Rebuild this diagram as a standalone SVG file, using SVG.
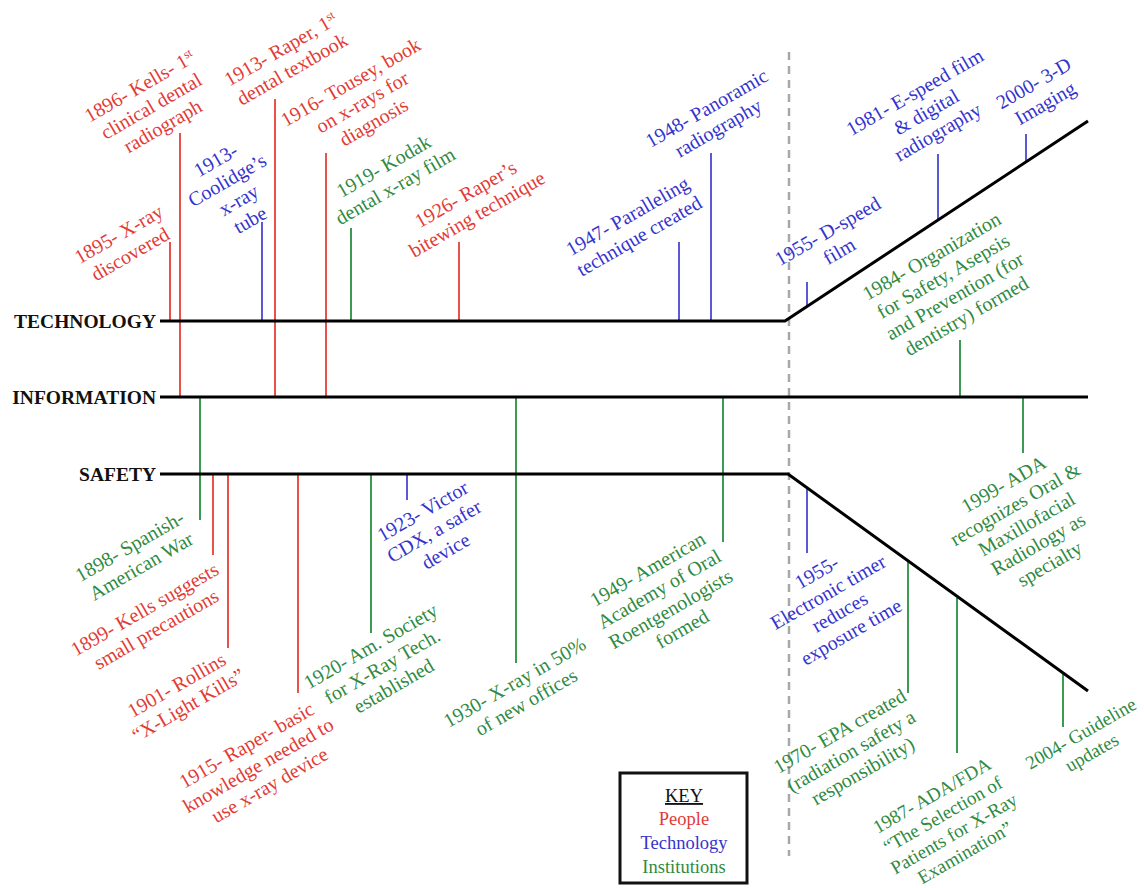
<svg xmlns="http://www.w3.org/2000/svg" width="1144" height="888" viewBox="0 0 1144 888">
<style>
text{font-family:"Liberation Serif","Times New Roman",serif}
.lbl{font-size:20px;text-anchor:middle}
.sm{font-size:19px}
.r{fill:#e23b36}.b{fill:#3434cc}.g{fill:#2f8a42}
.axis{stroke:#000;stroke-width:3;fill:none}
.head{font-size:19.5px;font-weight:bold;fill:#111;text-anchor:end}
.lr{stroke:#e8524c;stroke-width:2}.lb{stroke:#5a5ad6;stroke-width:2}.lg{stroke:#3d9a52;stroke-width:2}
.key{font-size:18.5px;text-anchor:middle}
</style>
<rect width="1144" height="888" fill="#fff"/>
<line x1="789" y1="52" x2="789" y2="856" stroke="#a8a8a8" stroke-width="2.5" stroke-dasharray="8,6"/>
<g id="connectors">
<line class="lr" x1="170" y1="242" x2="170" y2="321"/>
<line class="lr" x1="180" y1="133" x2="180" y2="397"/>
<line class="lb" x1="262" y1="222" x2="262" y2="321"/>
<line class="lr" x1="275" y1="99" x2="275" y2="397"/>
<line class="lr" x1="326" y1="153" x2="326" y2="397"/>
<line class="lg" x1="351" y1="228" x2="351" y2="321"/>
<line class="lr" x1="459" y1="242" x2="459" y2="321"/>
<line class="lb" x1="679" y1="242" x2="679" y2="321"/>
<line class="lb" x1="711" y1="153" x2="711" y2="321"/>
<line class="lb" x1="807" y1="282" x2="807" y2="307"/>
<line class="lb" x1="938" y1="154" x2="938" y2="220"/>
<line class="lb" x1="1026" y1="134" x2="1026" y2="162"/>
<line class="lg" x1="960" y1="340" x2="960" y2="397"/>
<line class="lg" x1="1023" y1="397" x2="1023" y2="453"/>
<line class="lg" x1="200" y1="397" x2="200" y2="520"/>
<line class="lr" x1="213" y1="474" x2="213" y2="555"/>
<line class="lr" x1="228" y1="474" x2="228" y2="648"/>
<line class="lr" x1="298" y1="474" x2="298" y2="693"/>
<line class="lg" x1="371" y1="474" x2="371" y2="633"/>
<line class="lb" x1="407" y1="474" x2="407" y2="500"/>
<line class="lg" x1="516" y1="397" x2="516" y2="663"/>
<line class="lg" x1="723" y1="397" x2="723" y2="542"/>
<line class="lb" x1="807" y1="489" x2="807" y2="553"/>
<line class="lg" x1="908" y1="562" x2="908" y2="693"/>
<line class="lg" x1="957" y1="598" x2="957" y2="753"/>
<line class="lg" x1="1063" y1="674" x2="1063" y2="727"/>
</g>
<g id="axis-technology">
<polyline class="axis" points="160,321 785,321 1088,121"/>
<text class="head" x="156" y="328">TECHNOLOGY</text>
</g>
<g id="axis-information">
<line class="axis" x1="160" y1="397" x2="1088" y2="397"/>
<text class="head" x="156" y="404">INFORMATION</text>
</g>
<g id="axis-safety">
<polyline class="axis" points="160,474 788,474 1088,691"/>
<text class="head" x="156" y="481">SAFETY</text>
</g>
<g id="e1895"><text class="lbl r" transform="translate(122,240) rotate(-30)"><tspan x="0">1895- X-ray</tspan><tspan x="0" dy="23">discovered</tspan></text></g>
<g id="e1896"><text class="lbl r" transform="translate(143,92) rotate(-30)"><tspan x="0">1896- Kells- 1<tspan font-size="12" baseline-shift="super">st</tspan></tspan><tspan x="0" dy="23">clinical dental</tspan><tspan x="0" dy="23">radiograph</tspan></text></g>
<g id="e1913c"><text class="lbl b" transform="translate(219,166) rotate(-30)"><tspan x="0">1913-</tspan><tspan x="0" dy="23">Coolidge’s</tspan><tspan x="0" dy="23">x-ray</tspan><tspan x="0" dy="23">tube</tspan></text></g>
<g id="e1913r"><text class="lbl r" transform="translate(284,55) rotate(-30)"><tspan x="0">1913- Raper, 1<tspan font-size="12" baseline-shift="super">st</tspan></tspan><tspan x="0" dy="23">dental textbook</tspan></text></g>
<g id="e1916"><text class="lbl r" transform="translate(354,88) rotate(-30)"><tspan x="0">1916- Tousey, book</tspan><tspan x="0" dy="23">on x-rays for</tspan><tspan x="0" dy="23">diagnosis</tspan></text></g>
<g id="e1919"><text class="lbl g" transform="translate(387,172) rotate(-30)"><tspan x="0">1919- Kodak</tspan><tspan x="0" dy="23">dental x-ray film</tspan></text></g>
<g id="e1926"><text class="lbl r" transform="translate(469,200) rotate(-30)"><tspan x="0">1926- Raper’s</tspan><tspan x="0" dy="23">bitewing technique</tspan></text></g>
<g id="e1947"><text class="lbl b" transform="translate(631,222) rotate(-30)"><tspan x="0">1947- Paralleling</tspan><tspan x="0" dy="23">technique created</tspan></text></g>
<g id="e1948"><text class="lbl b" transform="translate(710,114) rotate(-30)"><tspan x="0">1948- Panoramic</tspan><tspan x="0" dy="23">radiography</tspan></text></g>
<g id="e1955d"><text class="lbl b" transform="translate(831,237) rotate(-30)"><tspan x="0">1955- D-speed</tspan><tspan x="0" dy="23">film</tspan></text></g>
<g id="e1981"><text class="lbl b" transform="translate(918,98) rotate(-30)"><tspan x="0">1981- E-speed film</tspan><tspan x="0" dy="23">&amp; digital</tspan><tspan x="0" dy="23">radiography</tspan></text></g>
<g id="e2000"><text class="lbl b" transform="translate(1037,89) rotate(-30)"><tspan x="0">2000- 3-D</tspan><tspan x="0" dy="23">Imaging</tspan></text></g>
<g id="e1984"><text class="lbl g" transform="translate(935,262) rotate(-30)"><tspan x="0">1984- Organization</tspan><tspan x="0" dy="23">for Safety, Asepsis</tspan><tspan x="0" dy="23">and Prevention (for</tspan><tspan x="0" dy="23">dentistry) formed</tspan></text></g>
<g id="e1898"><text class="lbl g" transform="translate(133,552) rotate(-30)"><tspan x="0">1898- Spanish-</tspan><tspan x="0" dy="23">American War</tspan></text></g>
<g id="e1899"><text class="lbl r" transform="translate(148,615) rotate(-30)"><tspan x="0">1899- Kells suggests</tspan><tspan x="0" dy="23">small precautions</tspan></text></g>
<g id="e1901"><text class="lbl r" transform="translate(180,691) rotate(-30)"><tspan x="0">1901- Rollins</tspan><tspan x="0" dy="23">“X-Light Kills”</tspan></text></g>
<g id="e1915"><text class="lbl r" transform="translate(250,751) rotate(-30)"><tspan x="0">1915- Raper- basic</tspan><tspan x="0" dy="23">knowledge needed to</tspan><tspan x="0" dy="23">use x-ray device</tspan></text></g>
<g id="e1920"><text class="lbl g" transform="translate(374,652) rotate(-30)"><tspan x="0">1920- Am. Society</tspan><tspan x="0" dy="23">for X-Ray Tech.</tspan><tspan x="0" dy="23">established</tspan></text></g>
<g id="e1923"><text class="lbl b" transform="translate(426,517) rotate(-30)"><tspan x="0">1923- Victor</tspan><tspan x="0" dy="23">CDX, a safer</tspan><tspan x="0" dy="23">device</tspan></text></g>
<g id="e1930"><text class="lbl g" transform="translate(518,688) rotate(-30)"><tspan x="0">1930- X-ray in 50%</tspan><tspan x="0" dy="23">of new offices</tspan></text></g>
<g id="e1949"><text class="lbl g" transform="translate(651,575) rotate(-30)"><tspan x="0">1949- American</tspan><tspan x="0" dy="23">Academy of Oral</tspan><tspan x="0" dy="23">Roentgenologists</tspan><tspan x="0" dy="23">formed</tspan></text></g>
<g id="e1955e"><text class="lbl b" transform="translate(820,578) rotate(-30)"><tspan x="0">1955-</tspan><tspan x="0" dy="23">Electronic timer</tspan><tspan x="0" dy="23">reduces</tspan><tspan x="0" dy="23">exposure time</tspan></text></g>
<g id="e1999"><text class="lbl g" transform="translate(1007,490) rotate(-30)"><tspan x="0">1999- ADA</tspan><tspan x="0" dy="23">recognizes Oral &amp;</tspan><tspan x="0" dy="23">Maxillofacial</tspan><tspan x="0" dy="23">Radiology as</tspan><tspan x="0" dy="23">specialty</tspan></text></g>
<g id="e1970"><text class="lbl g" transform="translate(843,737) rotate(-30)"><tspan x="0">1970- EPA created</tspan><tspan x="0" dy="23">(radiation safety a</tspan><tspan x="0" dy="23">responsibility)</tspan></text></g>
<g id="e1987"><text class="lbl sm g" transform="translate(935,801) rotate(-30)"><tspan x="0">1987- ADA/FDA</tspan><tspan x="0" dy="22">“The Selection of</tspan><tspan x="0" dy="22">Patients for X-Ray</tspan><tspan x="0" dy="22">Examination”</tspan></text></g>
<g id="e2004"><text class="lbl sm g" transform="translate(1084,739) rotate(-30)"><tspan x="0">2004- Guideline</tspan><tspan x="0" dy="22">updates</tspan></text></g>
<g id="key">
<rect x="620" y="773" width="127" height="110" fill="#fff" stroke="#111" stroke-width="3"/>
<text class="key" x="684" y="802" fill="#111" text-decoration="underline">KEY</text>
<text class="key r" x="684" y="825">People</text>
<text class="key b" x="684" y="849">Technology</text>
<text class="key g" x="684" y="873">Institutions</text>
</g>
</svg>
